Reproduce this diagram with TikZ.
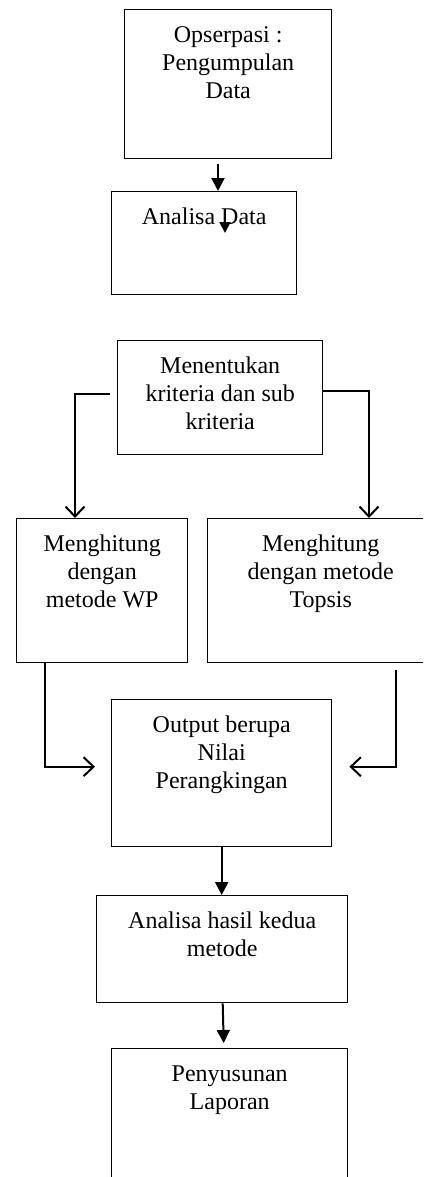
\documentclass[tikz,border=0pt]{standalone}
\usepackage{fontspec}
\setmainfont{Liberation Serif}
\usepackage{tikz}
\usetikzlibrary{arrows.meta,calc}
\newcommand{\isi}[3]{\parbox[t][#2][t]{#1}{\centering\rule{0pt}{16.5pt}#3}}

\begin{document}
\begin{tikzpicture}[
    x=0.5pt, y=-0.5pt,
    kotak/.style={draw, line width=0.7pt, inner sep=0pt, anchor=north west,
                  font=\fontsize{12}{14}\selectfont},
    panah/.style={-{Triangle[length=6.5pt, width=6.5pt]}, line width=1pt},
    buka/.style={-{Straight Barb[length=5pt, width=9.5pt]}, line width=1pt}
]
    \clip (0,0) rectangle (423,1177);
    \node[kotak] (opsr) at (124, 9)   {\isi{103.5pt}{74.5pt}{Opserpasi :\\Pengumpulan\\Data}};
    \node[kotak] (anl)  at (111, 191) {\isi{92.5pt}{51.5pt}{Analisa Data}};
    \node[kotak] (krit) at (117, 340) {\isi{102.5pt}{57pt}{Menentukan\\kriteria dan sub\\kriteria}};
    \node[kotak] (wp)   at (16, 518)  {\isi{85.5pt}{72pt}{Menghitung\\dengan\\metode WP}};
    \node[kotak] (tps)  at (207, 518) {\isi{113pt}{72pt}{Menghitung\\dengan metode\\Topsis}};
    \node[kotak] (out)  at (111, 699) {\isi{110pt}{73.5pt}{Output berupa\\Nilai\\Perangkingan}};
    \node[kotak] (hsl)  at (96, 895)  {\isi{125.5pt}{53.5pt}{Analisa hasil kedua\\metode}};
    \node[kotak] (lap)  at (111, 1048){\isi{118pt}{75pt}{Penyusunan\\Laporan}};
    % arah alur
    \draw[panah] ([xshift=47pt, yshift=-2.5pt]opsr.south west) -- ([xshift=53.5pt]anl.north west);
    \draw[panah, {Triangle[length=5.5pt, width=5.5pt]}-] ([xshift=57pt, yshift=-21pt]anl.north west) -- ([xshift=57pt, yshift=-9.5pt]anl.north west);
    \draw[buka] ([xshift=-3.5pt, yshift=2pt]krit.west) -| ([xshift=29.5pt]wp.north west);
    \draw[buka] ([yshift=3.5pt]krit.east) -| ([xshift=81pt]tps.north west);
    \draw[buka] ([xshift=14.5pt]wp.south west) |- ([xshift=-8pt, yshift=3.25pt]out.west);
    \draw[buka] ([xshift=94.5pt, yshift=-3.5pt]tps.south west) |- ([xshift=8.5pt, yshift=3.25pt]out.east);
    \draw[panah] (out.south) -- (out.south |- hsl.north);
    \draw[panah] ([xshift=0.25pt]hsl.south) -- ([xshift=-3pt, yshift=2.5pt]lap.north);
\end{tikzpicture}
\end{document}
